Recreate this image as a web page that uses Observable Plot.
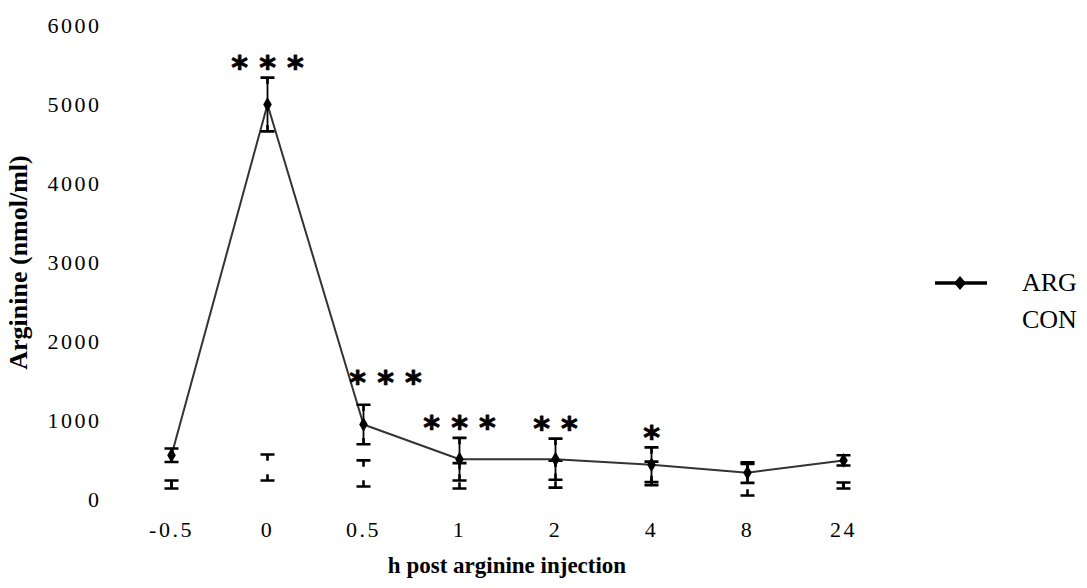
<!DOCTYPE html>
<html><head><meta charset="utf-8">
<script src="https://cdn.jsdelivr.net/npm/d3@7"></script>
<script src="https://cdn.jsdelivr.net/npm/@observablehq/plot@0.6"></script>
<style>
body{margin:0;background:#fff;}
#wrap{position:relative;width:1087px;height:588px;overflow:hidden;}
#chart{position:absolute;left:0;top:0;}
#chart svg{letter-spacing:2.5px;}
#chart g[aria-label="text"]{letter-spacing:normal;}
.lg{position:absolute;font-family:"Liberation Serif",serif;font-size:26px;color:#000;line-height:1;}
</style>
</head><body>
<div id="wrap">
  <div id="chart"></div>
  <svg class="lg" style="left:933px;top:272px" width="56" height="22">
    <line x1="2" y1="11" x2="54" y2="11" stroke="#000" stroke-width="3.5"/>
    <path d="M27,4 L33,11 L27,18 L21,11 Z" fill="#000"/>
  </svg>
  <div class="lg" style="left:1022px;top:270px">ARG</div>
  <div class="lg" style="left:1022px;top:307px">CON</div>
</div>
<script>
const times   = ["-0.5", "0", "0.5", "1", "2", "4", "8", "24"];
const argMean = [560, 5000, 950, 510, 510, 440, 340, 495];
const argSD   = [85, 340, 250, 270, 260, 220, 130, 65];
const conMean = [190, 405, 330, 300, 320, 330, 250, 178];
const conSD   = [50, 165, 165, 160, 170, 150, 200, 38];
const stars   = ["", "* * *", "* * *", "* * *", "* *", "*", "", ""];
const yTicks  = [0, 1000, 2000, 3000, 4000, 5000, 6000];

const rows = times.map((t, i) => ({
  t, arg: argMean[i], argSd: argSD[i], con: conMean[i], conSd: conSD[i], star: stars[i]
}));

const capUp = {draw(ctx, size) { const r = Math.sqrt(size / Math.PI);
  ctx.moveTo(-r, 0); ctx.lineTo(r, 0); ctx.moveTo(0, 0); ctx.lineTo(0, r * 0.9); }};
const capDown = {draw(ctx, size) { const r = Math.sqrt(size / Math.PI);
  ctx.moveTo(-r, 0); ctx.lineTo(r, 0); ctx.moveTo(0, 0); ctx.lineTo(0, -r * 0.9); }};

const starRows = rows.filter(d => d.star && d.t !== "0.5");
const starShift = rows.filter(d => d.star && d.t === "0.5");

const chart = Plot.plot({
  width: 900, height: 588,
  marginLeft: 122, marginRight: 9, marginTop: 25, marginBottom: 89,
  style: {fontFamily: "Liberation Serif, serif", fontSize: "22px", background: "white", color: "#000"},
  x: {type: "point", domain: times, label: null, tickSize: 0, tickPadding: 22},
  y: {domain: [0, 6000], ticks: yTicks, tickFormat: d3.format("d"), tickSize: 0, tickPadding: 21, label: null},
  marks: [
    // CON error caps (mean line/markers not visible in the original)
    Plot.dot(rows, {x: "t", y: d => d.con + d.conSd, symbol: capUp, r: 7, fill: "none", stroke: "#000", strokeWidth: 2.6}),
    Plot.dot(rows, {x: "t", y: d => d.con - d.conSd, symbol: capDown, r: 7, fill: "none", stroke: "#000", strokeWidth: 2.6}),
    // ARG
    Plot.line(rows, {x: "t", y: "arg", stroke: "#333", strokeWidth: 2}),
    Plot.ruleX(rows, {x: "t", y1: d => d.arg - d.argSd, y2: d => d.arg + d.argSd, stroke: "#000", strokeWidth: 1.8}),
    Plot.dot(rows, {x: "t", y: d => d.arg + d.argSd, symbol: capUp, r: 7, fill: "none", stroke: "#000", strokeWidth: 2.6}),
    Plot.dot(rows, {x: "t", y: d => d.arg - d.argSd, symbol: capDown, r: 7, fill: "none", stroke: "#000", strokeWidth: 2.6}),
    Plot.dot(rows, {x: "t", y: "arg", symbol: "diamond", r: 4.5, fill: "#000"}),
    // significance
    Plot.text(starRows, {x: "t", y: d => d.arg + d.argSd, text: "star", dy: -10,
      fontFamily: "DejaVu Sans", fontWeight: "bold", fontSize: 32, stroke: "#000", strokeWidth: 0.8, fill: "#000"}),
    Plot.text(starShift, {x: "t", y: d => d.arg + d.argSd, text: "star", dy: -22, dx: 22,
      fontFamily: "DejaVu Sans", fontWeight: "bold", fontSize: 32, stroke: "#000", strokeWidth: 0.8, fill: "#000"}),
    // axis titles
    Plot.text(["Arginine (nmol/ml)"], {frameAnchor: "left", textAnchor: "middle", text: d => d, rotate: -90, dx: -104,
      fontWeight: "bold", fontSize: 26}),
    Plot.text(["h post arginine injection"], {frameAnchor: "bottom", textAnchor: "middle", text: d => d, dy: 73,
      fontWeight: "bold", fontSize: 23})
  ]
});
document.getElementById("chart").appendChild(chart);
</script>
</body></html>
